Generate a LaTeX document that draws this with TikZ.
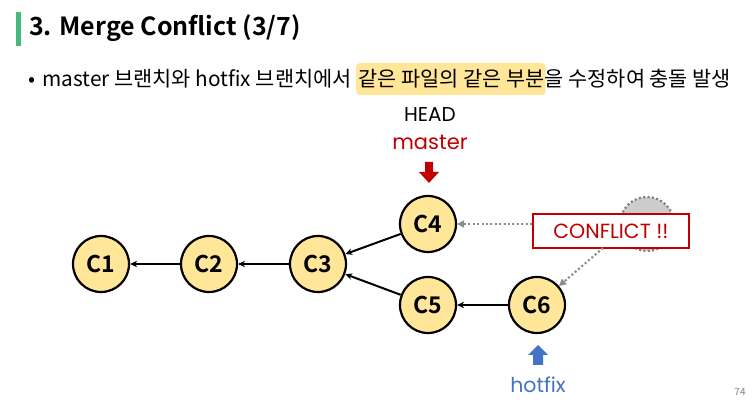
\documentclass[tikz,border=0pt]{standalone}
\usepackage{fontspec}
\newfontfamily\kr{Noto Sans CJK KR}
\newfontfamily\krb{Noto Sans CJK KR Bold}
\newfontfamily\pop{Poppins}
\usetikzlibrary{arrows.meta,backgrounds}
\definecolor{nodefill}{HTML}{FFE699}
\definecolor{hl}{HTML}{FFE699}
\definecolor{darkred}{HTML}{C00000}
\definecolor{bluearr}{HTML}{4472C4}
\definecolor{greenbar}{HTML}{45B97C}
\tikzset{
  commit/.style={circle,draw=black,line width=2.2pt,fill=nodefill,minimum size=56pt,inner sep=0pt,font=\krb\fontsize{23}{26}\selectfont},
  link/.style={line width=2pt,-{Stealth[length=7pt,width=6.5pt]}},
  dots/.style={gray!90,line width=2.2pt,dash pattern=on 2pt off 2.4pt,-{Triangle[length=7pt,width=7pt]}},
  bul/.style={anchor=base west,inner sep=0pt,font=\kr\fontsize{20.8}{25}\selectfont},
}
\begin{document}
\begin{tikzpicture}[x=1pt,y=-1pt]
\useasboundingbox (0,0) rectangle (756,411);
% title
\fill[greenbar] (16,12) rectangle (21,46);
\node[anchor=west,inner sep=0pt,font=\krb\fontsize{25}{29}\selectfont] (title) at (29,28) {3. Merge Conflict (3/7)};
% bullet line
\node[bul] (la) at (28,87) {•\kern0.35em master 브랜치와 hotfix 브랜치에서\kern0.3em};
\node[bul] (lb) at (la.base east) {같은 파일의 같은 부분};
\node[bul] (lc) at (lb.base east) {을 수정하여 충돌 발생};
\begin{scope}[on background layer]
\fill[hl,rounded corners=4pt] ([xshift=-2pt]lb.west |- 0,63) rectangle ([xshift=1pt]lb.east |- 0,95);
\end{scope}
% commits
\node[commit] (c1) at (101,264) {C1};
\node[commit] (c2) at (209,264) {C2};
\node[commit] (c3) at (318,264) {C3};
\node[commit] (c4) at (428,224) {C4};
\node[commit] (c5) at (428,305) {C5};
\node[commit] (c6) at (537,305) {C6};
\draw[link] (c2) -- (c1);
\draw[link] (c3) -- (c2);
\draw[link] (c4) -- (c3);
\draw[link] (c5) -- (c3);
\draw[link] (c6) -- (c5);
% labels
\node[font=\pop\fontsize{20}{23}\selectfont,inner sep=0pt] (head) at (430,115) {HEAD};
\node[font=\pop\fontsize{21}{24}\selectfont,text=darkred,inner sep=0pt] (master) at (430,142) {master};
\fill[darkred] (425,162) -- (433,162) -- (433,172) -- (439,172) -- (429,183) -- (419,172) -- (425,172) -- cycle;
\fill[bluearr] (533,365) -- (543,365) -- (543,355) -- (548,355) -- (538,345) -- (528,355) -- (533,355) -- cycle;
\node[font=\pop\fontsize{20.5}{23}\selectfont,text=bluearr,inner sep=0pt] (hotfix) at (538,385) {hotfix};
% conflict
\fill[gray!40] (647,224) circle (27);
\draw[gray,line width=2.2pt,dash pattern=on 2pt off 2.4pt] (647,224) circle (27);
\node[draw=darkred,line width=2.2pt,fill=white,minimum width=156pt,minimum height=34pt,inner sep=0pt,text=darkred,font=\pop\fontsize{20.5}{23}\selectfont] (conf) at (611,231) {CONFLICT !!};
\coordinate (cl) at (conf.west |- c4);
\draw[dots] (cl) -- (c4);
\coordinate (cb) at (603,248);
\draw[dots] (cb) -- (c6);
% page number
\node[font=\kr\fontsize{10}{11}\selectfont,text=gray,inner sep=0pt] (pg) at (740,392) {74};
\end{tikzpicture}
\end{document}
